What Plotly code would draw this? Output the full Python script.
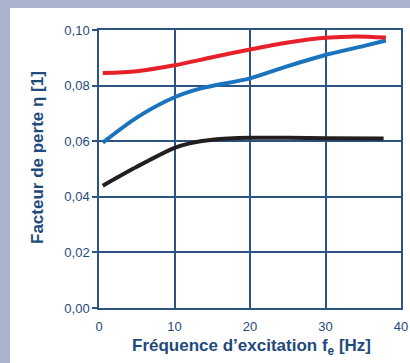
import plotly.graph_objects as go

x_red = [0.5, 5, 10, 15, 20, 25, 30, 34, 38]
y_red = [0.0845, 0.0852, 0.0873, 0.0902, 0.0930, 0.0955, 0.0972, 0.0977, 0.0973]

x_blue = [0.5, 5, 10, 13.5, 20, 25, 30, 35, 38]
y_blue = [0.0595, 0.0685, 0.0758, 0.0790, 0.0826, 0.0870, 0.0910, 0.0942, 0.0962]

x_black = [0.5, 5, 10, 12, 15, 20, 25, 30, 37.7]
y_black = [0.0440, 0.0508, 0.0576, 0.0592, 0.0605, 0.0612, 0.0612, 0.0611, 0.0610]

x_ticks = [0, 10, 20, 30, 40]
y_ticks = [0.00, 0.02, 0.04, 0.06, 0.08, 0.10]

axis_col = "#2d5383"
text_col = "#1f4a7c"
font = "Liberation Sans, Arial, sans-serif"

W, H = 302, 278

fig = go.Figure()
for xs, ys, c in [(x_black, y_black, "#231f20"), (x_blue, y_blue, "#1a73bd"), (x_red, y_red, "#e8202a")]:
    fig.add_trace(go.Scatter(x=xs, y=ys, mode="lines", line=dict(color=c, width=4, shape="spline", smoothing=0.8), showlegend=False))

fig.update_layout(
    width=410, height=363,
    margin=dict(l=99, r=9, t=30, b=55, autoexpand=False),
    paper_bgcolor="#aab3cc",
    plot_bgcolor="white",
    separators=",.",
    font=dict(family=font, color=text_col, size=13),
    shapes=[dict(type="rect", xref="paper", yref="paper", x0=-89 / W, x1=1.1, y0=-0.3, y1=1 + 22 / H,
                 fillcolor="white", line=dict(width=0), layer="below")],
    annotations=[
        dict(text="<b>Fréquence d’excitation f<sub>e</sub> [Hz]</b>", xref="paper", yref="paper",
             x=(251 - 99) / W, y=-(347 - 308) / H, xanchor="center", yanchor="middle", showarrow=False,
             font=dict(size=17, color=text_col)),
        dict(text="<b>Facteur de perte η [1]</b>", xref="paper", yref="paper",
             x=-(99 - 37) / W, y=(308 - 158) / H, xanchor="center", yanchor="middle", showarrow=False,
             textangle=-90, font=dict(size=17, color=text_col)),
    ],
)
fig.update_xaxes(range=[0, 40], tickvals=x_ticks, showgrid=True, gridcolor=axis_col, gridwidth=1.5,
                 showline=True, mirror=True, linecolor=axis_col, linewidth=1.5, zeroline=False,
                 ticks="", ticklabelstandoff=6, tickfont=dict(size=13, color=text_col), automargin=False)
fig.update_yaxes(range=[0, 0.1], tickvals=y_ticks, tickformat=".2f", showgrid=True, gridcolor=axis_col, gridwidth=1.5,
                 showline=True, mirror=True, linecolor=axis_col, linewidth=1.5, zeroline=False,
                 ticks="outside", ticklen=5, tickcolor=axis_col, tickwidth=1.5, tickfont=dict(size=13, color=text_col),
                 automargin=False)

fig.write_html("out.html", config={"displayModeBar": False},
               post_script="document.body.style.margin='0';document.body.style.padding='0';")
